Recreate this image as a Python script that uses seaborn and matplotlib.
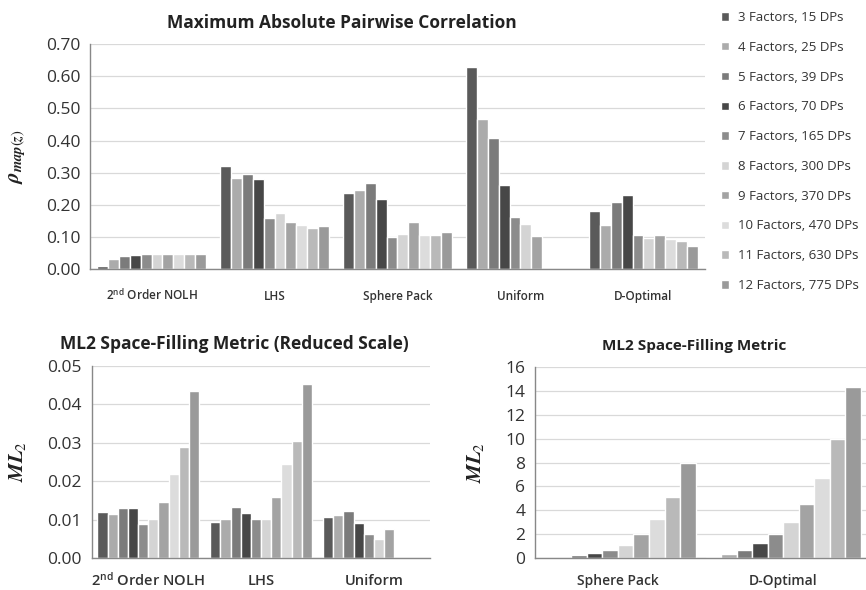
import numpy as np
import pandas as pd
import matplotlib
matplotlib.use("Agg")
import matplotlib.pyplot as plt
import seaborn as sns

# --- data ---
series = ["3 Factors, 15 DPs", "4 Factors, 25 DPs", "5 Factors, 39 DPs",
          "6 Factors, 70 DPs", "7 Factors, 165 DPs", "8 Factors, 300 DPs",
          "9 Factors, 370 DPs", "10 Factors, 470 DPs", "11 Factors, 630 DPs",
          "12 Factors, 775 DPs"]
grays = ["#5a5a5a", "#ababab", "#7b7b7b", "#474747", "#8c8c8c",
         "#d4d4d4", "#a3a3a3", "#dcdcdc", "#b9b9b9", "#9a9a9a"]

nolh_label = r"2$^{\mathregular{nd}}$ Order NOLH"
corr_designs = [nolh_label, "LHS", "Sphere Pack", "Uniform", "D-Optimal"]
corr_nolh = [0.010, 0.030, 0.040, 0.045, 0.048, 0.047, 0.048, 0.048, 0.047, 0.046]
corr_lhs = [0.320, 0.285, 0.295, 0.280, 0.160, 0.176, 0.146, 0.136, 0.127, 0.133]
corr_sphere = [0.237, 0.247, 0.267, 0.217, 0.100, 0.108, 0.145, 0.105, 0.105, 0.115]
corr_uniform = [0.630, 0.466, 0.409, 0.261, 0.163, 0.139, 0.103, np.nan, np.nan, np.nan]
corr_dopt = [0.180, 0.136, 0.208, 0.232, 0.106, 0.098, 0.105, 0.095, 0.086, 0.073]

ml2_small_designs = [nolh_label, "LHS", "Uniform"]
ml2_nolh = [0.0120, 0.0114, 0.0130, 0.0130, 0.0090, 0.0103, 0.0146, 0.0218, 0.0288, 0.0435]
ml2_lhs = [0.0093, 0.0103, 0.0132, 0.0118, 0.0101, 0.0103, 0.0160, 0.0245, 0.0305, 0.0452]
ml2_uniform = [0.0108, 0.0113, 0.0123, 0.0091, 0.0062, 0.0049, 0.0076, np.nan, np.nan, np.nan]

ml2_big_designs = ["Sphere Pack", "D-Optimal"]
ml2_sphere = [0.02, 0.05, 0.25, 0.42, 0.65, 1.08, 2.00, 3.30, 5.15, 8.00]
ml2_dopt = [0.12, 0.35, 0.65, 1.25, 2.00, 3.00, 4.55, 6.70, 10.00, 14.30]


def long_frame(designs, rows):
    recs = []
    for d, vals in zip(designs, rows):
        for s, v in zip(series, vals):
            recs.append({"design": d, "series": s, "value": v})
    return pd.DataFrame(recs)


def style_axis(ax, title, tfs, tx, ylabel, ylim, yticks, fmt, yfs, xfs, xpad, ylpad):
    ax.set_title(title, fontsize=tfs, fontweight="bold", pad=12, color="#222222", x=tx)
    ax.set_ylim(*ylim)
    ax.set_yticks(yticks)
    ax.set_yticklabels([fmt.format(t) for t in yticks], fontsize=yfs, color="#333333")
    ax.set_ylabel(ylabel, fontsize=15, color="#222222", labelpad=ylpad)
    ax.set_xlabel("")
    n = len(ax.get_xticks())
    ax.set_xlim(-0.5, n - 0.5)
    # baseline-aligned category labels so the superscript does not push one down
    ax.tick_params(axis="x", length=0, labelsize=xfs, colors="#333333",
                   pad=xpad + xfs * 1.0)
    for lbl in ax.get_xticklabels():
        lbl.set_va("baseline")
        lbl.set_fontweight("semibold")
    ax.set_xticks(np.arange(-0.5, n, 1.0), minor=True)
    ax.tick_params(axis="x", which="minor", length=4, color="#888888")
    ax.tick_params(axis="y", length=4, color="#888888", pad=3)
    ax.grid(axis="y", color="#d9d9d9", linewidth=0.9)
    ax.grid(axis="x", visible=False)
    ax.set_axisbelow(True)
    for side in ["top", "right"]:
        ax.spines[side].set_visible(False)
    for side in ["left", "bottom"]:
        ax.spines[side].set_color("#888888")
        ax.spines[side].set_linewidth(1.0)


sns.set_style("white")
plt.rcParams["font.family"] = ["Open Sans", "DejaVu Sans"]
plt.rcParams["mathtext.fontset"] = "custom"
plt.rcParams["mathtext.rm"] = "STIXGeneral"
plt.rcParams["mathtext.it"] = "STIXGeneral:italic:bold"
plt.rcParams["mathtext.bf"] = "STIXGeneral:bold"

fig = plt.figure(figsize=(8.66, 5.90), dpi=100)
ax_top = fig.add_axes([0.104, 0.544, 0.710, 0.381])
ax_bl = fig.add_axes([0.106, 0.054, 0.391, 0.326])
ax_br = fig.add_axes([0.618, 0.054, 0.382, 0.324])

pal = dict(zip(series, grays))

df_top = long_frame(corr_designs, [corr_nolh, corr_lhs, corr_sphere, corr_uniform, corr_dopt])
sns.barplot(data=df_top, x="design", y="value", hue="series", palette=pal,
            width=0.88, gap=0, saturation=1, errorbar=None, ax=ax_top, legend=True)
style_axis(ax_top, "Maximum Absolute Pairwise Correlation", 12.5, 0.41,
           r"$\rho_{map(z)}$", (0, 0.70),
           np.round(np.arange(0, 0.71, 0.10), 2), "{:.2f}", 12.5, 8.5, 14, 13)

df_bl = long_frame(ml2_small_designs, [ml2_nolh, ml2_lhs, ml2_uniform])
sns.barplot(data=df_bl, x="design", y="value", hue="series", palette=pal,
            width=0.9, gap=0, saturation=1, errorbar=None, ax=ax_bl, legend=False)
style_axis(ax_bl, "ML2 Space-Filling Metric (Reduced Scale)", 12.5, 0.42,
           r"$ML_2$", (0, 0.05),
           [0.0, 0.01, 0.02, 0.03, 0.04, 0.05], "{:.2f}", 12.5, 10.5, 9, 14)

df_br = long_frame(ml2_big_designs, [ml2_sphere, ml2_dopt])
sns.barplot(data=df_br, x="design", y="value", hue="series", palette=pal,
            width=0.94, gap=0, saturation=1, errorbar=None, ax=ax_br, legend=False)
style_axis(ax_br, "ML2 Space-Filling Metric", 11, 0.48,
           r"$ML_2$", (0, 16),
           list(range(0, 17, 2)), "{:d}", 12.5, 10, 9, 14)

# legend on the right of the top panel
handles, labels = ax_top.get_legend_handles_labels()
ax_top.get_legend().remove()
fig.legend(handles, labels, loc="upper left", bbox_to_anchor=(0.826, 0.99),
           frameon=False, fontsize=9.5, handlelength=0.6, handleheight=0.6,
           handletextpad=0.7, labelspacing=1.27, borderaxespad=0,
           labelcolor="#333333")

fig.savefig("out.png", dpi=100)
